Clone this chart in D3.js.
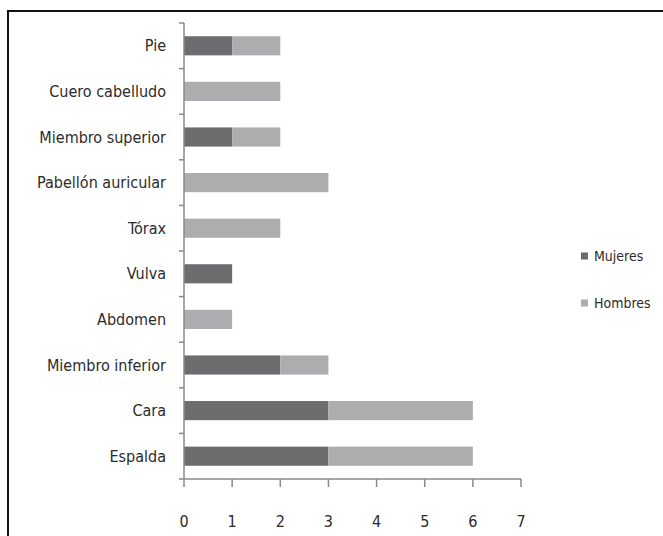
<!DOCTYPE html>
<html><head><meta charset="utf-8">
<script src="https://cdn.jsdelivr.net/npm/d3@7"></script>
<style>body{margin:0;background:#fff}svg{display:block}text{font-family:"DejaVu Sans Condensed","DejaVu Sans",sans-serif;fill:#2b2b2b}</style>
</head><body>
<script>
const categories = ["Pie","Cuero cabelludo","Miembro superior","Pabellón auricular","Tórax","Vulva","Abdomen","Miembro inferior","Cara","Espalda"];
const mujeres = [1,0,1,0,0,1,0,2,3,3];
const hombres = [1,2,1,3,2,0,1,1,3,3];
const seriesNames = ["Mujeres","Hombres"];
const seriesColors = ["#6d6d6f","#adadb0"];
const xTicks = [0,1,2,3,4,5,6,7];

(function(){
const W = 663, H = 536;
const svg = d3.select("body").append("svg").attr("width", W).attr("height", H);
svg.append("rect").attr("x",8).attr("y",11).attr("width",W).attr("height",H)
  .attr("fill","none").attr("stroke","#111").attr("stroke-width",2);

const mL = 184, mR = 521, mT = 23, mB = 479;
const x = d3.scaleLinear().domain([0,7]).range([mL,mR]);
const y = d3.scaleBand().domain(categories).range([mT,mB]).paddingInner(0.58).paddingOuter(0.29);

const data = categories.map((c,i)=>({cat:c, Mujeres:mujeres[i], Hombres:hombres[i]}));
const stack = d3.stack().keys(seriesNames)(data);
const color = d3.scaleOrdinal().domain(seriesNames).range(seriesColors);

svg.append("g").selectAll("g").data(stack).join("g").attr("fill", d=>color(d.key))
  .selectAll("rect").data(d=>d).join("rect")
  .attr("x", d=>x(d[0])).attr("width", d=>x(d[1])-x(d[0]))
  .attr("y", d=>y(d.data.cat)).attr("height", y.bandwidth());

const axisColor = "#8a8a8a";
const gy = svg.append("g");
gy.append("line").attr("x1",mL).attr("x2",mL).attr("y1",mT).attr("y2",mB).attr("stroke",axisColor).attr("stroke-width",1.5);
const step = (mB-mT)/categories.length;
d3.range(categories.length+1).forEach(i=>{
  gy.append("line").attr("x1",mL-5).attr("x2",mL).attr("y1",mT+i*step).attr("y2",mT+i*step).attr("stroke",axisColor).attr("stroke-width",1.5);
});
gy.selectAll("text").data(categories).join("text")
  .attr("x", 166).attr("y", d=>y(d)+y.bandwidth()/2).attr("dy","0.35em")
  .attr("text-anchor","end").attr("font-size",16).text(d=>d);

const gx = svg.append("g");
gx.append("line").attr("x1",mL).attr("x2",mR).attr("y1",mB).attr("y2",mB).attr("stroke",axisColor).attr("stroke-width",1.5);
gx.selectAll("line.t").data(xTicks).join("line").attr("class","t")
  .attr("x1",d=>x(d)).attr("x2",d=>x(d)).attr("y1",mB).attr("y2",mB+8).attr("stroke",axisColor).attr("stroke-width",1.5);
gx.selectAll("text").data(xTicks).join("text")
  .attr("x",d=>x(d)).attr("y",521).attr("dy","0.35em").attr("text-anchor","middle").attr("font-size",16).text(d=>d);

const leg = svg.append("g");
seriesNames.forEach((s,i)=>{
  const ly = 256 + i*47;
  leg.append("rect").attr("x",581).attr("y",ly-3.5).attr("width",7).attr("height",7).attr("fill",color(s));
  leg.append("text").attr("x",594).attr("y",ly).attr("dy","0.35em").attr("font-size",14).text(s);
});
})();
</script>
</body></html>
